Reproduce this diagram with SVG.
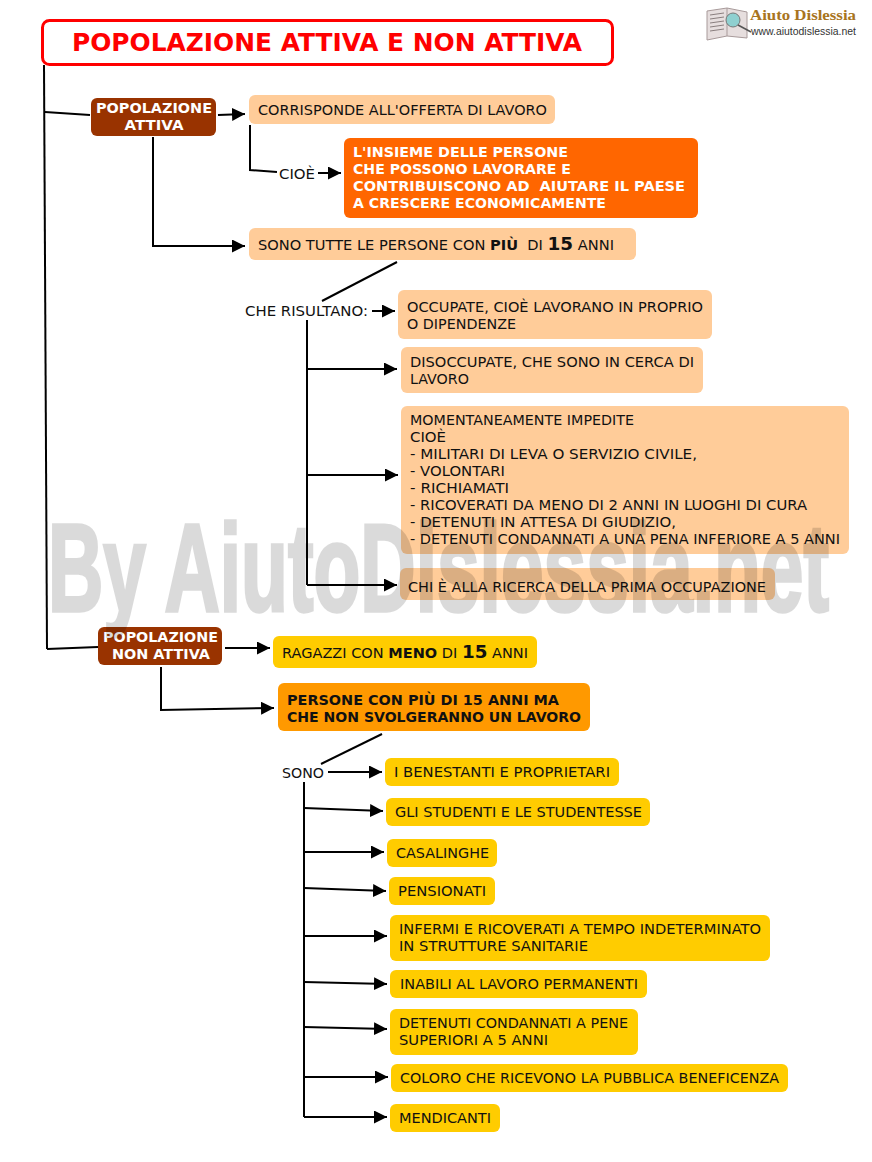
<svg xmlns="http://www.w3.org/2000/svg" width="872" height="1162" viewBox="0 0 872 1162">
<style>
text{font-family:"DejaVu Sans",Verdana,sans-serif;font-size:14.300px;fill:#111}
.b{font-weight:bold}
.w{fill:#fff;font-weight:bold}
.c{text-anchor:middle}
.big{font-size:18px;font-weight:bold}
.peach{fill:#ffcc99}
.yel{fill:#ffcc00}
.brown{fill:#993300}
#connectors path{fill:none;stroke:#000;stroke-width:2}
#connectors path.a{marker-end:url(#arr)}
</style>
<defs><marker id="arr" markerUnits="userSpaceOnUse" markerWidth="14" markerHeight="14" refX="13" refY="6.500" orient="auto"><path d="M0 0L13 6.500L0 13Z" fill="#000"/></marker></defs>
<rect width="872" height="1162" fill="#fff"/>
<g id="connectors">
<path d="M44 65L47 649"/>
<path d="M45 112L90 115"/>
<path d="M47 649L98 647"/>
<path class="a" d="M218 115L245 114"/>
<path d="M250 125V170L277 172"/>
<path class="a" d="M318 173H341"/>
<path class="a" d="M153 137V246H245"/>
<path d="M322 301L397 262"/>
<path class="a" d="M372 311H395"/>
<path d="M307 320V585"/>
<path class="a" d="M307 369H397"/>
<path class="a" d="M307 475H398"/>
<path class="a" d="M307 585H397"/>
<path class="a" d="M225 648H270"/>
<path class="a" d="M161 667V710L274 708"/>
<path d="M321 764L382 734"/>
<path class="a" d="M328 772H382"/>
<path d="M304 782V1117"/>
<path class="a" d="M304 808L383 811"/>
<path class="a" d="M304 852H384"/>
<path class="a" d="M304 888L386 891"/>
<path class="a" d="M304 936H387"/>
<path class="a" d="M304 982L387 984"/>
<path class="a" d="M304 1027L387 1029"/>
<path class="a" d="M304 1077H388"/>
<path class="a" d="M304 1117H387"/>
</g>
<g id="title"><rect x="42.500" y="20.500" width="570" height="44" rx="7" fill="#fff" stroke="#f00" stroke-width="3"/><text x="327" y="51" class="c b" style="font-size:24px;fill:#f00" textLength="510" lengthAdjust="spacingAndGlyphs">POPOLAZIONE ATTIVA E NON ATTIVA</text></g>
<g id="logo">
<path d="M707 11L727 8L747 12V38L727 36L707 40Z" fill="#e6dede" stroke="#a89a9a"/>
<path d="M727 8V36" stroke="#a89a9a" fill="none"/>
<path d="M710 15L724 13M710 19L724 17M710 23L724 21M710 27L724 25M710 31L724 29" stroke="#8a7f7f" fill="none"/>
<circle cx="733" cy="20" r="7" fill="#8fd0d0" stroke="#777"/>
<path d="M738 25L751 32" stroke="#555" stroke-width="1.500"/>
<text x="750" y="20" class="b" style="font-family:'Liberation Serif',serif;font-size:14px;fill:#a87420" textLength="106" lengthAdjust="spacingAndGlyphs">Aiuto Dislessia</text>
<text x="751" y="35" style="font-family:'Liberation Sans',sans-serif;font-size:10.500px;fill:#333" textLength="105" lengthAdjust="spacingAndGlyphs">www.aiutodislessia.net</text>
</g>
<g id="n1"><rect class="brown" x="91" y="98" width="125" height="38" rx="6"/><text x="154" y="113" class="w c" textLength="116" lengthAdjust="spacingAndGlyphs">POPOLAZIONE</text><text x="154" y="130" class="w c" textLength="59" lengthAdjust="spacingAndGlyphs">ATTIVA</text></g>
<g id="n2"><rect class="peach" x="249" y="95" width="306" height="29" rx="6"/><text x="258" y="115" textLength="289" lengthAdjust="spacingAndGlyphs">CORRISPONDE ALL'OFFERTA DI LAVORO</text></g>
<g id="n3"><text x="279" y="179" textLength="36" lengthAdjust="spacingAndGlyphs">CIOÈ</text></g>
<g id="n4"><rect x="344" y="138" width="354" height="80" rx="6" fill="#ff6600"/><text x="353" y="157" class="w" textLength="215" lengthAdjust="spacingAndGlyphs">L'INSIEME DELLE PERSONE</text><text x="353" y="174" class="w" textLength="218" lengthAdjust="spacingAndGlyphs">CHE POSSONO LAVORARE E</text><text x="353" y="191" class="w" xml:space="preserve" textLength="332" lengthAdjust="spacingAndGlyphs">CONTRIBUISCONO AD  AIUTARE IL PAESE</text><text x="353" y="208" class="w" textLength="253" lengthAdjust="spacingAndGlyphs">A CRESCERE ECONOMICAMENTE</text></g>
<g id="n5"><rect class="peach" x="249" y="228" width="387" height="32" rx="6"/><text x="258" y="250" xml:space="preserve" textLength="356" lengthAdjust="spacingAndGlyphs">SONO TUTTE LE PERSONE CON <tspan class="b">PIÙ</tspan>  DI <tspan class="big">15</tspan> ANNI</text></g>
<g id="n6"><text x="245" y="316" textLength="123" lengthAdjust="spacingAndGlyphs">CHE RISULTANO:</text></g>
<g id="n7"><rect class="peach" x="398" y="290" width="314" height="49" rx="6"/><text x="407" y="312" textLength="296" lengthAdjust="spacingAndGlyphs">OCCUPATE, CIOÈ LAVORANO IN PROPRIO</text><text x="407" y="329" textLength="109" lengthAdjust="spacingAndGlyphs">O DIPENDENZE</text></g>
<g id="n8"><rect class="peach" x="401" y="347" width="302" height="46" rx="6"/><text x="410" y="367" textLength="284" lengthAdjust="spacingAndGlyphs">DISOCCUPATE, CHE SONO IN CERCA DI</text><text x="410" y="384" textLength="59" lengthAdjust="spacingAndGlyphs">LAVORO</text></g>
<g id="n9"><rect class="peach" x="401" y="406" width="448" height="148" rx="6"/><text x="410" y="425" textLength="224" lengthAdjust="spacingAndGlyphs">MOMENTANEAMENTE IMPEDITE</text><text x="410" y="442" textLength="36" lengthAdjust="spacingAndGlyphs">CIOÈ</text><text x="410" y="459" textLength="287" lengthAdjust="spacingAndGlyphs">- MILITARI DI LEVA O SERVIZIO CIVILE,</text><text x="410" y="476" textLength="95" lengthAdjust="spacingAndGlyphs">- VOLONTARI</text><text x="410" y="493" textLength="99" lengthAdjust="spacingAndGlyphs">- RICHIAMATI</text><text x="410" y="510" textLength="397" lengthAdjust="spacingAndGlyphs">- RICOVERATI DA MENO DI 2 ANNI IN LUOGHI DI CURA</text><text x="410" y="527" textLength="266" lengthAdjust="spacingAndGlyphs">- DETENUTI IN ATTESA DI GIUDIZIO,</text><text x="410" y="544" textLength="430" lengthAdjust="spacingAndGlyphs">- DETENUTI CONDANNATI A UNA PENA INFERIORE A 5 ANNI</text></g>
<g id="n10"><rect class="peach" x="400" y="568" width="375" height="32" rx="6"/><text x="408" y="592" textLength="358" lengthAdjust="spacingAndGlyphs">CHI È ALLA RICERCA DELLA PRIMA OCCUPAZIONE</text></g>
<g id="n11"><rect class="brown" x="98" y="627" width="124" height="38" rx="6"/><text x="160.500" y="642" class="w c" textLength="115" lengthAdjust="spacingAndGlyphs">POPOLAZIONE</text><text x="161" y="659" class="w c" textLength="98" lengthAdjust="spacingAndGlyphs">NON ATTIVA</text></g>
<g id="n12"><rect class="yel" x="273" y="636" width="264" height="32" rx="6"/><text x="282" y="658" textLength="246" lengthAdjust="spacingAndGlyphs">RAGAZZI CON <tspan class="b">MENO</tspan> DI <tspan class="big">15</tspan> ANNI</text></g>
<g id="n13"><rect x="278" y="683" width="312" height="48" rx="6" fill="#ff9900"/><text x="287" y="705" class="b" textLength="272" lengthAdjust="spacingAndGlyphs">PERSONE CON PIÙ DI 15 ANNI MA</text><text x="287" y="722" class="b" textLength="294" lengthAdjust="spacingAndGlyphs">CHE NON SVOLGERANNO UN LAVORO</text></g>
<g id="n14"><text x="282" y="778" textLength="42" lengthAdjust="spacingAndGlyphs">SONO</text></g>
<g id="n15"><rect class="yel" x="385" y="758" width="234" height="28" rx="6"/><text x="394" y="777" textLength="216" lengthAdjust="spacingAndGlyphs">I BENESTANTI E PROPRIETARI</text></g>
<g id="n16"><rect class="yel" x="386" y="798" width="264" height="28" rx="6"/><text x="395" y="817" textLength="247" lengthAdjust="spacingAndGlyphs">GLI STUDENTI E LE STUDENTESSE</text></g>
<g id="n17"><rect class="yel" x="387" y="839" width="110" height="28" rx="6"/><text x="396" y="858" textLength="93" lengthAdjust="spacingAndGlyphs">CASALINGHE</text></g>
<g id="n18"><rect class="yel" x="389" y="877" width="106" height="28" rx="6"/><text x="398" y="896" textLength="88" lengthAdjust="spacingAndGlyphs">PENSIONATI</text></g>
<g id="n19"><rect class="yel" x="390" y="915" width="380" height="46" rx="6"/><text x="399" y="934" textLength="362" lengthAdjust="spacingAndGlyphs">INFERMI E RICOVERATI A TEMPO INDETERMINATO</text><text x="399" y="951" textLength="189" lengthAdjust="spacingAndGlyphs">IN STRUTTURE SANITARIE</text></g>
<g id="n20"><rect class="yel" x="390" y="970" width="257" height="28" rx="6"/><text x="400" y="989" textLength="238" lengthAdjust="spacingAndGlyphs">INABILI AL LAVORO PERMANENTI</text></g>
<g id="n21"><rect class="yel" x="390" y="1009" width="248" height="46" rx="6"/><text x="399" y="1028" textLength="229" lengthAdjust="spacingAndGlyphs">DETENUTI CONDANNATI A PENE</text><text x="399" y="1045" textLength="149" lengthAdjust="spacingAndGlyphs">SUPERIORI A 5 ANNI</text></g>
<g id="n22"><rect class="yel" x="391" y="1064" width="397" height="28" rx="6"/><text x="400" y="1083" textLength="379" lengthAdjust="spacingAndGlyphs">COLORO CHE RICEVONO LA PUBBLICA BENEFICENZA</text></g>
<g id="n23"><rect class="yel" x="390" y="1104" width="110" height="28" rx="6"/><text x="399" y="1123" textLength="92" lengthAdjust="spacingAndGlyphs">MENDICANTI</text></g>
<g opacity=".14"><text id="watermark" x="48" y="611" style="font-family:'Liberation Sans',sans-serif;font-weight:bold;font-size:124px;fill:#000;stroke:#000;stroke-width:3.500px" textLength="781" lengthAdjust="spacingAndGlyphs">By AiutoDislessia.net</text></g>
</svg>
